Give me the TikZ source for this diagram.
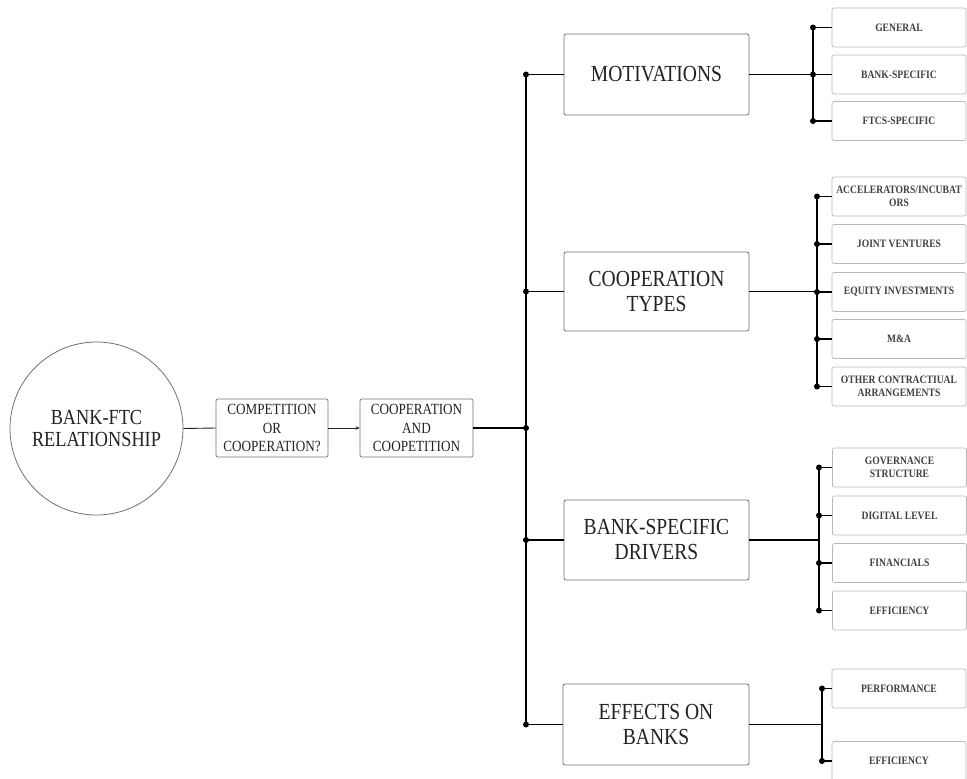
\documentclass[tikz,border=0pt]{standalone}
\usepackage{fontspec}
\setmainfont[FakeStretch=0.85]{Liberation Serif}
\usetikzlibrary{arrows.meta}
\definecolor{txt}{HTML}{222222}
\definecolor{subtxt}{HTML}{404040}
\definecolor{bord}{HTML}{707070}
\definecolor{subbord}{HTML}{B8B8B8}
\tikzset{
  mainbox/.style={draw=bord, line width=0.8pt, rounded corners=2pt, minimum width=185pt, minimum height=81pt, inner sep=0pt, align=center, text=txt, font=\fontsize{23}{25}\selectfont},
  midbox/.style={draw=bord, line width=0.7pt, rounded corners=2pt, minimum width=112pt, minimum height=58pt, inner sep=0pt, align=center, text=txt, font=\fontsize{15.5}{18.5}\selectfont},
  subbox/.style={draw=subbord, line width=0.7pt, rounded corners=2pt, minimum width=134pt, minimum height=39pt, inner sep=0pt, align=center, text=subtxt, font=\fontsize{11.3}{12.8}\selectfont\bfseries},
  conn/.style={line width=1.8pt, black},
  thinconn/.style={line width=0.9pt, txt},
  dot/.style={fill=black}
}
\begin{document}
\begin{tikzpicture}[x=1pt,y=-1pt]
\useasboundingbox (0,0) rectangle (967,779);
% left part
\node[draw=bord, line width=0.8pt, circle, minimum size=173pt, inner sep=0pt, align=center, text=txt, font=\fontsize{21.5}{22}\selectfont] (rel) at (96.5,428.5) {BANK-FTC\\RELATIONSHIP};
\node[midbox] (comp) at (272,428) {COMPETITION\\OR\\COOPERATION?};
\node[midbox, minimum width=113pt] (coop) at (416.5,428) {COOPERATION\\AND\\COOPETITION};
\draw[thinconn] (rel.east) -- (comp.west);
\draw[thinconn, -{Stealth[length=4pt,width=3.5pt]}] (comp.east) -- (coop.west);
% main boxes
\coordinate (spine) at (526,0);
\node[mainbox] (mot) at (656.5,74.5) {MOTIVATIONS};
\node[mainbox, minimum height=79pt] (ctp) at (656.5,291.5) {COOPERATION\\TYPES};
\node[mainbox, minimum height=80pt] (bsd) at (656.5,540) {BANK-SPECIFIC\\DRIVERS};
\node[mainbox, minimum width=186pt] (eff) at (656,724.5) {EFFECTS ON\\BANKS};
\draw[conn] (coop.east) -- (coop.east -| spine);
\draw[conn] (mot.west -| spine) -- (eff.west -| spine);
\foreach \n in {mot,ctp,bsd,eff}{
  \draw[conn] (\n.west) -- (\n.west -| spine);
  \fill[dot] (\n.west -| spine) circle (3pt);
}
\fill[dot] (coop.east -| spine) circle (3pt);
% branch coordinates
\coordinate (bm) at (813,0);
\coordinate (bc) at (817,0);
\coordinate (bb) at (819,0);
\coordinate (be) at (822,0);
% motivations subs
\node[subbox] (m1) at (899,27.5) {GENERAL};
\node[subbox] (m2) at (899,74.5) {BANK-SPECIFIC};
\node[subbox] (m3) at (899,121) {FTCS-SPECIFIC};
\draw[conn] (mot.east) -- (mot.east -| bm);
\draw[conn] (m1.west -| bm) -- (m3.west -| bm);
\foreach \s in {m1,m2,m3}{
  \draw[conn] (\s.west) -- (\s.west -| bm);
  \fill[dot] (\s.west -| bm) circle (3pt);
}
% cooperation types subs
\node[subbox] (c1) at (899,196.5) {ACCELERATORS/INCUBAT\\ORS};
\node[subbox] (c2) at (899,244) {JOINT VENTURES};
\node[subbox] (c3) at (899,292) {EQUITY INVESTMENTS};
\node[subbox] (c4) at (899,339) {M\&A};
\node[subbox] (c5) at (899,386.5) {OTHER CONTRACTIUAL\\ARRANGEMENTS};
\draw[conn] (ctp.east) -- (ctp.east -| bc);
\draw[conn] (c1.west -| bc) -- (c5.west -| bc);
\foreach \s in {c1,c2,c3,c4,c5}{
  \draw[conn] (\s.west) -- (\s.west -| bc);
  \fill[dot] (\s.west -| bc) circle (3pt);
}
% bank-specific drivers subs
\node[subbox] (b1) at (899.5,467.5) {GOVERNANCE\\STRUCTURE};
\node[subbox] (b2) at (899.5,515.5) {DIGITAL LEVEL};
\node[subbox] (b3) at (899.5,563) {FINANCIALS};
\node[subbox] (b4) at (899.5,610.5) {EFFICIENCY};
\draw[conn] (bsd.east) -- (bsd.east -| bb);
\draw[conn] (b1.west -| bb) -- (b4.west -| bb);
\foreach \s in {b1,b2,b3,b4}{
  \draw[conn] (\s.west) -- (\s.west -| bb);
  \fill[dot] (\s.west -| bb) circle (3pt);
}
% effects subs
\node[subbox] (e1) at (899,688.5) {PERFORMANCE};
\node[subbox] (e2) at (899,761) {EFFICIENCY};
\draw[conn] (eff.east) -- (eff.east -| be);
\draw[conn] (e1.west -| be) -- (e2.west -| be);
\foreach \s in {e1,e2}{
  \draw[conn] (\s.west) -- (\s.west -| be);
  \fill[dot] (\s.west -| be) circle (3pt);
}
\end{tikzpicture}
\end{document}
